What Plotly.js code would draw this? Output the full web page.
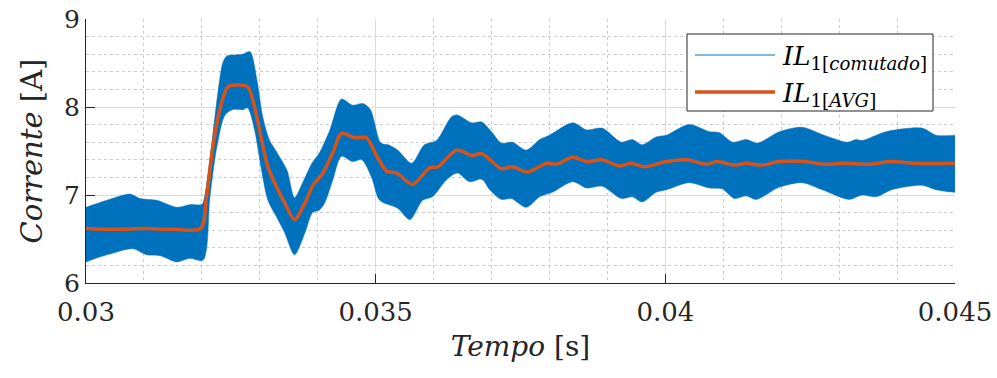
<!DOCTYPE html>
<html>
<head>
<meta charset="utf-8">
<script src="https://cdn.plot.ly/plotly-3.0.1.min.js"></script>
<style>html,body{margin:0;padding:0;background:#fff;}#chart{width:997px;height:378px;}</style>
</head>
<body>
<div id="chart"></div>
<script>
// Switching current envelope (upper / lower edges of the ripple band)
const tUpper = [0.03000,0.03036,0.03076,0.03093,0.03122,0.03157,0.03179,0.03198,0.03202,0.03236,0.03243,0.03253,0.03270,0.03283,0.03295,0.03305,0.03317,0.03329,0.03347,0.03360,0.03374,0.03390,0.03403,0.03421,0.03441,0.03460,0.03478,0.03491,0.03509,0.03522,0.03538,0.03562,0.03584,0.03605,0.03631,0.03641,0.03666,0.03683,0.03700,0.03717,0.03736,0.03760,0.03783,0.03800,0.03840,0.03864,0.03891,0.03924,0.03943,0.03960,0.03984,0.04002,0.04041,0.04076,0.04093,0.04116,0.04140,0.04159,0.04197,0.04236,0.04274,0.04314,0.04329,0.04340,0.04381,0.04443,0.04467,0.04500];
const iUpper = [6.86,6.94,7.01,6.96,6.94,6.86,6.89,6.89,6.91,8.50,8.58,8.59,8.60,8.63,8.31,7.89,7.62,7.49,7.28,6.97,7.14,7.36,7.48,7.74,8.09,8.02,8.04,7.97,7.59,7.57,7.51,7.36,7.57,7.62,7.89,7.91,7.82,7.83,7.72,7.59,7.60,7.51,7.63,7.68,7.82,7.74,7.76,7.60,7.63,7.57,7.66,7.68,7.80,7.72,7.71,7.60,7.63,7.59,7.72,7.77,7.68,7.60,7.63,7.62,7.72,7.76,7.68,7.68];
const tLower = [0.03000,0.03036,0.03081,0.03105,0.03128,0.03157,0.03179,0.03202,0.03214,0.03226,0.03240,0.03253,0.03271,0.03279,0.03291,0.03303,0.03314,0.03329,0.03343,0.03360,0.03378,0.03391,0.03403,0.03412,0.03426,0.03441,0.03460,0.03476,0.03493,0.03507,0.03538,0.03559,0.03581,0.03598,0.03622,0.03641,0.03662,0.03683,0.03697,0.03717,0.03734,0.03760,0.03783,0.03805,0.03840,0.03864,0.03891,0.03924,0.03943,0.03960,0.03984,0.04002,0.04041,0.04076,0.04098,0.04119,0.04140,0.04157,0.04197,0.04236,0.04271,0.04317,0.04340,0.04364,0.04391,0.04443,0.04467,0.04500];
const iLower = [6.24,6.32,6.39,6.32,6.31,6.24,6.28,6.26,6.98,7.55,7.91,7.97,7.97,7.99,7.74,7.28,6.94,6.75,6.57,6.32,6.57,6.80,6.83,6.91,7.17,7.44,7.38,7.40,7.20,6.94,6.85,6.72,6.94,6.98,7.17,7.25,7.15,7.18,7.06,6.95,6.96,6.86,6.98,7.03,7.15,7.08,7.10,6.96,6.98,6.92,7.03,7.06,7.14,7.08,7.07,6.96,6.99,6.95,7.09,7.14,7.06,6.95,7.00,6.98,7.06,7.11,7.06,7.03];
// Average current
const tAvg = [0.03000,0.03050,0.03100,0.03150,0.03198,0.03208,0.03219,0.03231,0.03245,0.03262,0.03279,0.03291,0.03303,0.03314,0.03329,0.03343,0.03360,0.03378,0.03391,0.03409,0.03426,0.03441,0.03464,0.03484,0.03502,0.03519,0.03536,0.03564,0.03593,0.03607,0.03640,0.03666,0.03683,0.03717,0.03736,0.03762,0.03795,0.03812,0.03840,0.03864,0.03890,0.03921,0.03941,0.03964,0.04002,0.04038,0.04071,0.04090,0.04119,0.04140,0.04167,0.04197,0.04241,0.04274,0.04312,0.04350,0.04391,0.04431,0.04500];
const iAvg = [6.62,6.61,6.62,6.61,6.62,6.98,7.55,7.97,8.23,8.25,8.23,8.00,7.63,7.32,7.09,6.91,6.72,6.91,7.10,7.25,7.48,7.70,7.65,7.65,7.44,7.27,7.25,7.12,7.31,7.32,7.51,7.45,7.47,7.30,7.32,7.26,7.36,7.35,7.43,7.38,7.40,7.33,7.36,7.32,7.38,7.40,7.35,7.38,7.34,7.36,7.34,7.38,7.38,7.35,7.36,7.35,7.38,7.36,7.36];
// Ticks and labels
const xTicks = [0.03, 0.035, 0.04, 0.045];
const xTickText = ["0.03", "0.035", "0.04", "0.045"];
const yTicks = [6, 7, 8, 9];
const yTickText = ["6", "7", "8", "9"];
const nameSw = "<i>IL</i><sub>1[<i>comutado</i>]</sub>";
const nameAvg = "<i>IL</i><sub>1[<i>AVG</i>]</sub>";

const BLUE = "#0072BD", ORANGE = "#D95319";
const FONT = "DejaVu Serif";

const traces = [
  {x: tUpper, y: iUpper, mode: "lines", line: {color: BLUE, width: 0.5, shape: "spline", smoothing: 0.8}, showlegend: false, hoverinfo: "skip"},
  {x: tLower, y: iLower, mode: "lines", line: {color: BLUE, width: 0.5, shape: "spline", smoothing: 0.8}, fill: "tonexty", fillcolor: BLUE, showlegend: false, hoverinfo: "skip"},
  {x: tAvg, y: iAvg, mode: "lines", line: {color: ORANGE, width: 3.5, shape: "spline", smoothing: 0.8}, showlegend: false}
];

// manual legend (paper coords)
const lx0 = 0.6916, lx1 = 0.9747, ly0 = 0.6515, ly1 = 0.9432;
const shapes = [
  {type: "rect", xref: "paper", yref: "paper", x0: lx0, x1: lx1, y0: ly0, y1: ly1, line: {color: "#262626", width: 1}, fillcolor: "#ffffff", layer: "above"},
  {type: "line", xref: "paper", yref: "paper", x0: 0.7008, x1: 0.7929, y0: 0.8636, y1: 0.8636, line: {color: BLUE, width: 1.2}, layer: "above"},
  {type: "line", xref: "paper", yref: "paper", x0: 0.7008, x1: 0.7929, y0: 0.7235, y1: 0.7235, line: {color: ORANGE, width: 3.5}, layer: "above"}
];
const annotations = [
  {xref: "paper", yref: "paper", x: 0.799, y: 0.855, xanchor: "left", yanchor: "middle", text: nameSw, showarrow: false, font: {family: FONT, size: 26, color: "#000"}},
  {xref: "paper", yref: "paper", x: 0.799, y: 0.715, xanchor: "left", yanchor: "middle", text: nameAvg, showarrow: false, font: {family: FONT, size: 26, color: "#000"}}
];

const layout = {
  width: 997, height: 378,
  margin: {l: 86, r: 42, t: 19, b: 95},
  paper_bgcolor: "#fff", plot_bgcolor: "#fff",
  font: {family: FONT, color: "#262626"},
  showlegend: false,
  xaxis: {
    range: [0.03, 0.045], tickvals: xTicks, ticktext: xTickText,
    ticks: "inside", ticklen: 9, tickcolor: "#262626", tickwidth: 1,
    showline: true, linecolor: "#262626", linewidth: 1, mirror: false,
    showgrid: true, gridcolor: "#dcdcdc", gridwidth: 1, zeroline: false,
    minor: {dtick: 0.001, showgrid: true, gridcolor: "#cccccc", griddash: "dot", gridwidth: 1},
    tickfont: {family: FONT, size: 26, color: "#262626"},
    ticklabelstandoff: 6,
    title: {text: "<i>Tempo</i> [s]", font: {family: FONT, size: 28, color: "#262626"}, standoff: 10}
  },
  yaxis: {
    range: [6, 9], tickvals: yTicks, ticktext: yTickText,
    ticks: "inside", ticklen: 9, tickcolor: "#262626", tickwidth: 1,
    showline: true, linecolor: "#262626", linewidth: 1, mirror: false,
    showgrid: true, gridcolor: "#dcdcdc", gridwidth: 1, zeroline: false,
    minor: {dtick: 0.2, showgrid: true, gridcolor: "#cccccc", griddash: "dot", gridwidth: 1},
    tickfont: {family: FONT, size: 25, color: "#262626"},
    title: {text: "<i>Corrente</i> [A]", font: {family: FONT, size: 29, color: "#262626"}, standoff: 12}
  },
  shapes: shapes,
  annotations: annotations
};

Plotly.newPlot("chart", traces, layout, {staticPlot: true, displayModeBar: false});
</script>
</body>
</html>
